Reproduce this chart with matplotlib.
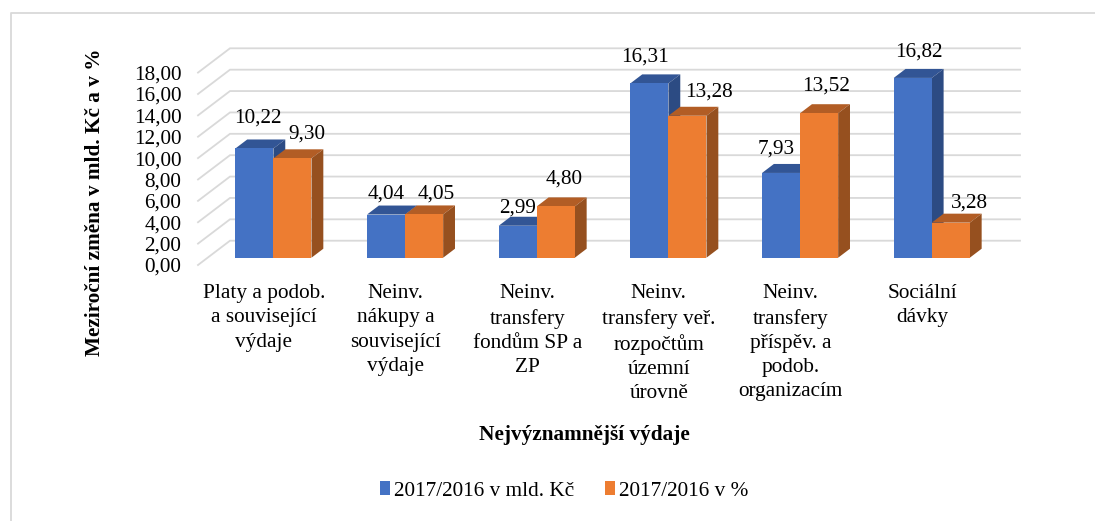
import matplotlib
matplotlib.use('Agg')
import matplotlib.pyplot as plt
from matplotlib.lines import Line2D
from matplotlib.patches import Polygon, Patch
import numpy as np

plt.rcParams['font.family'] = ['Liberation Serif', 'DejaVu Serif']

categories = ['Platy a podob.\na související\nvýdaje',
              'Neinv.\nnákupy a\nsouvisející\nvýdaje',
              'Neinv.\ntransfery\nfondům SP a\nZP',
              'Neinv.\ntransfery veř.\nrozpočtům\núzemní\núrovně',
              'Neinv.\ntransfery\npříspěv. a\npodob.\norganizacím',
              'Sociální\ndávky']
mld_kc = [10.22, 4.04, 2.99, 16.31, 7.93, 16.82]
procenta = [9.30, 4.05, 4.80, 13.28, 13.52, 3.28]
series_names = ['2017/2016 v mld. Kč', '2017/2016 v %']
yticks = np.arange(0, 19, 2)

# label nudges in pixels from the bar front centre / top edge
mld_nudge = [(3, 30), (0, 20), (0, 18), (-4, 26), (-5, 24), (6, 26)]
pct_nudge = [(14, 24), (12, 20), (8, 27), (21, 24), (7, 27), (19, 20)]

# 3d look: depth of the whole floor in data units
depth_x = 32 / 131.67
depth_y = 24.3 / 10.69
bar_start = 0.3
bar_depth = 0.37
bar_w = 0.289
gap = (1 - 2 * bar_w) / 2
fs = 15.3

fig_w, fig_h = 1095, 521
fig = plt.figure(figsize=(fig_w / 100, fig_h / 100), dpi=100)
# only top and left frame lines are in the picture
fig.add_artist(Line2D([10.5 / fig_w, 10.5 / fig_w, 1], [0, 1 - 12.5 / fig_h, 1 - 12.5 / fig_h],
                      color='#d9d9d9', linewidth=1.3))
ax = fig.add_axes([198 / fig_w, 1 - 265 / fig_h, 790 / fig_w, 192.4 / fig_h])
ax.set_xlim(0, 6)
ax.set_ylim(0, 18)
ax.patch.set_visible(False)
for s in ax.spines.values():
    s.set_visible(False)


def pt(x, y, d):
    return (x + d * depth_x, y + d * depth_y)


def draw_bar(x, val, face, top, side):
    d0 = bar_start
    d1 = bar_start + bar_depth
    ax.add_patch(Polygon([pt(x, val, d0), pt(x + bar_w, val, d0), pt(x + bar_w, val, d1), pt(x, val, d1)],
                         closed=True, facecolor=top, edgecolor='none', clip_on=False, zorder=3))
    ax.add_patch(Polygon([pt(x + bar_w, 0, d0), pt(x + bar_w, val, d0), pt(x + bar_w, val, d1), pt(x + bar_w, 0, d1)],
                         closed=True, facecolor=side, edgecolor='none', clip_on=False, zorder=3))
    ax.add_patch(Polygon([pt(x, 0, d0), pt(x + bar_w, 0, d0), pt(x + bar_w, val, d0), pt(x, val, d0)],
                         closed=True, facecolor=face, edgecolor='none', clip_on=False, zorder=3))


# gridlines: diagonal on the side wall, then along the back wall
for v in yticks:
    xs = [0, depth_x, 6 + depth_x]
    ys = [v, v + depth_y, v + depth_y]
    ax.plot(xs, ys, color='#d9d9d9', linewidth=1.3, clip_on=False, zorder=1, solid_joinstyle='miter')

for i in range(len(categories)):
    x1 = i + gap
    x2 = x1 + bar_w
    draw_bar(x1, mld_kc[i], '#4472c4', '#325595', '#2c4b83')
    draw_bar(x2, procenta[i], '#ed7d31', '#b25d25', '#96501f')
    for x, val, nudge in ((x1, mld_kc[i], mld_nudge[i]), (x2, procenta[i], pct_nudge[i])):
        ax.annotate(('%.2f' % val).replace('.', ','), xy=pt(x + bar_w / 2, val, bar_start),
                    xytext=nudge, textcoords='offset pixels', ha='center', va='center',
                    fontsize=fs, color='black', annotation_clip=False, zorder=5)

ax.set_yticks(yticks)
ax.set_yticklabels([('%.2f' % v).replace('.', ',') for v in yticks], fontsize=fs)
ax.tick_params(axis='y', length=0, pad=12)
ax.set_xticks(np.arange(len(categories)) + 0.5)
ax.set_xticklabels(categories, fontsize=fs, linespacing=1.36)
ax.tick_params(axis='x', length=0, pad=14)

ax.set_ylabel('Meziroční změna v mld. Kč a v %', fontsize=fs, fontweight='bold', va='center')
ax.yaxis.set_label_coords((95 - 198) / 790, (265 - 202) / 192.4)
ax.set_xlabel('Nejvýznamnější výdaje', fontsize=fs, fontweight='bold')
ax.xaxis.set_label_coords((584 - 198) / 790, (265 - 435) / 192.4)
ax.xaxis.label.set_va('center')

handles = [Patch(facecolor='#4472c4', label=series_names[0]), Patch(facecolor='#ed7d31', label=series_names[1])]
fig.legend(handles=handles, loc='center', bbox_to_anchor=(564 / fig_w, 1 - 491 / fig_h), ncol=2, frameon=False,
           fontsize=fs, handlelength=0.47, handleheight=0.6, handletextpad=0.2, columnspacing=1.45)

fig.savefig('out.png', dpi=100)
